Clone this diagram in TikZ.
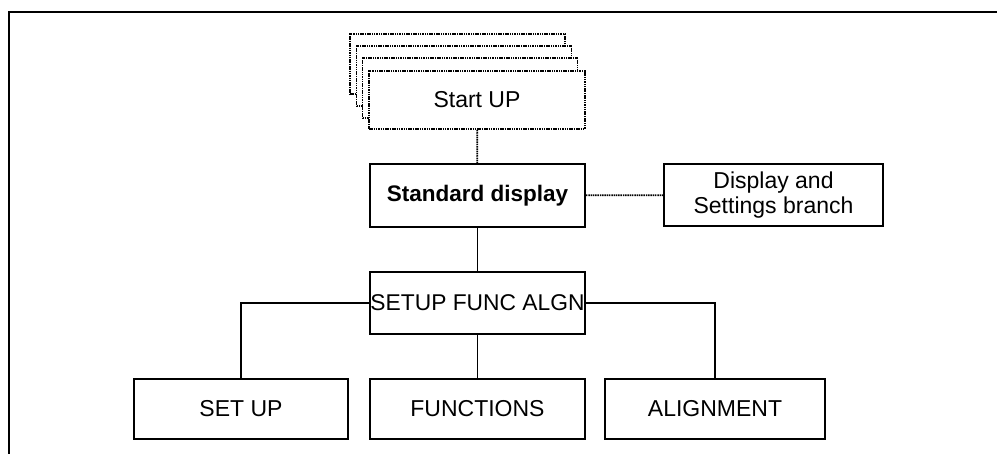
\documentclass[tikz,border=0pt]{standalone}
\usepackage{fontspec}
\setmainfont{Liberation Sans}
\begin{document}
\begin{tikzpicture}[x=1pt,y=-1pt,
  box/.style={draw=black,fill=white,line width=1.9pt,inner sep=0pt,align=center,
    font=\fontsize{23}{25.5}\selectfont},
  dotbox/.style={box,dash pattern=on 1.5pt off 0.8pt},
  dotline/.style={draw=black,line width=1.8pt,dash pattern=on 1.5pt off 0.8pt},
  solidline/.style={draw=black,line width=1.9pt}]
\useasboundingbox (0,0) rectangle (997,454);
% open frame
\draw[line width=2.6pt] (9,454) -- (9,12) -- (997,12);
% stacked start-up pages
\node[dotbox,minimum width=215pt,minimum height=60pt] (s1) at (457.5,64) {};
\node[dotbox,minimum width=215pt,minimum height=60pt] (s2) at (464,76) {};
\node[dotbox,minimum width=215pt,minimum height=60pt] (s3) at (470,88) {};
\node[dotbox,minimum width=216pt,minimum height=58pt] (start) at (477,100) {Start UP};
% main boxes
\node[box,minimum width=215pt,minimum height=63pt,font=\fontsize{22.5}{25}\selectfont\bfseries] (std) at (477.5,195.5) {Standard display};
\node[box,minimum width=219pt,minimum height=62pt] (disp) at (773.5,195) {Display and\\Settings branch};
\node[box,minimum width=215pt,minimum height=62pt,font=\fontsize{22.8}{25}\selectfont] (sfa) at (477.5,303) {SETUP FUNC ALGN};
\node[box,minimum width=214pt,minimum height=60pt] (su) at (241,409) {SET UP};
\node[box,minimum width=215pt,minimum height=60pt] (fn) at (477.5,409) {FUNCTIONS};
\node[box,minimum width=220pt,minimum height=60pt] (al) at (715,409) {ALIGNMENT};
% connectors
\draw[dotline] (start) -- (std);
\draw[dotline] (std) -- (disp);
\draw[solidline] (std) -- (sfa);
\draw[solidline] (sfa.west) -| (su.north);
\draw[solidline] (sfa) -- (fn);
\draw[solidline] (sfa.east) -| (al.north);
\end{tikzpicture}
\end{document}
